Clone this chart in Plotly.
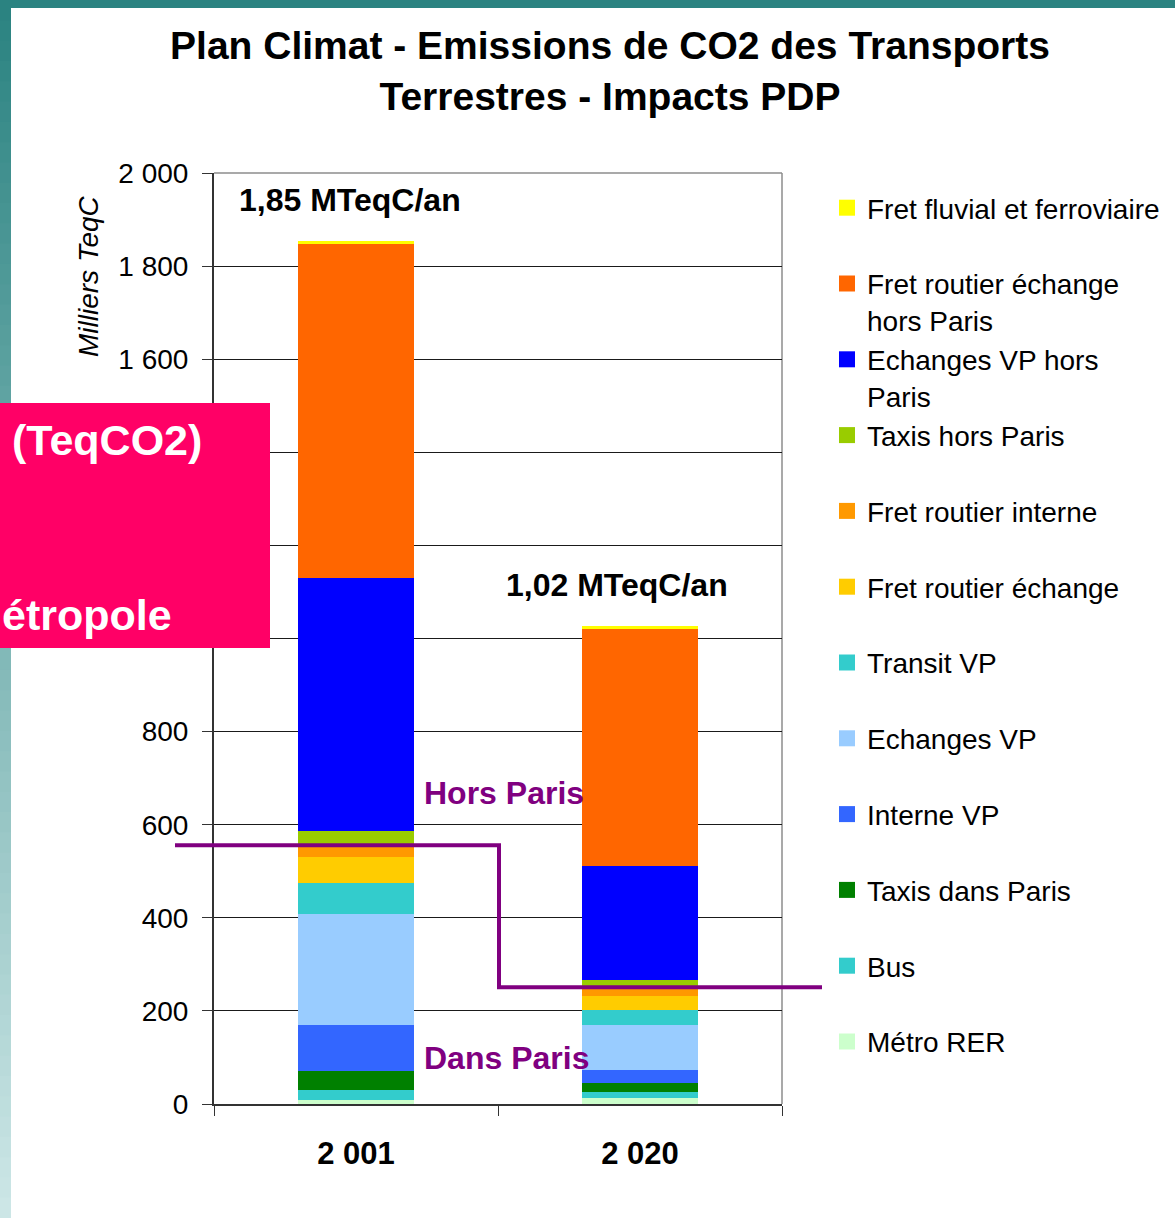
import plotly.graph_objects as go

# ---------------- data ----------------
categories = ["2 001", "2 020"]

# series listed bottom -> top of the stack
series_names = [
    "Métro RER",
    "Bus",
    "Taxis dans Paris",
    "Interne VP",
    "Echanges VP",
    "Transit VP",
    "Fret routier échange",
    "Fret routier interne",
    "Taxis hors Paris",
    "Echanges VP hors<br>Paris",
    "Fret routier échange<br>hors Paris",
    "Fret fluvial et ferroviaire",
]
metro_rer = [8, 12]
bus = [22, 13]
taxis_dans_paris = [40, 21]
interne_vp = [100, 26]
echanges_vp = [238, 97]
transit_vp = [67, 33]
fret_routier_echange = [56, 31]
fret_routier_interne = [24, 17]
taxis_hors_paris = [32, 17]
echanges_vp_hors_paris = [543, 245]
fret_routier_echange_hors_paris = [718, 508]
fret_fluvial_ferroviaire = [6, 6]

series_values = [
    metro_rer, bus, taxis_dans_paris, interne_vp, echanges_vp, transit_vp,
    fret_routier_echange, fret_routier_interne, taxis_hors_paris,
    echanges_vp_hors_paris, fret_routier_echange_hors_paris, fret_fluvial_ferroviaire,
]
series_colors = [
    "#CCFFCC", "#33CCCC", "#008000", "#3366FF", "#99CCFF", "#33CCCC",
    "#FFCC00", "#FF9900", "#99CC00", "#0000FF", "#FF6600", "#FFFF00",
]

y_tickvals = [0, 200, 400, 600, 800, 1000, 1200, 1400, 1600, 1800, 2000]
y_ticktext = ["0", "200", "400", "600", "800", "1 000", "1 200", "1 400", "1 600", "1 800", "2 000"]

total_labels = ["1,85 MTeqC/an", "1,02 MTeqC/an"]
total_label_levels = [1942, 1115]
limit_level = [556, 251]   # Paris / hors Paris separation level per bar

# ---------------- layout helpers ----------------
W, H = 1175, 1218
L, R, T, B = 214, 782, 173, 1104
FONT = "Liberation Sans, Arial, sans-serif"


def px(x):
    return (x - L) / (R - L)


def py(y):
    return (B - y) / (B - T)


fig = go.Figure()
for name, vals, col in zip(series_names, series_values, series_colors):
    label = name if "<br>" in name else name + "<br> "
    fig.add_trace(go.Bar(
        x=categories, y=vals, name=label, legendgroup=name, showlegend=False,
        marker=dict(color=col, line=dict(width=0)),
        hovertemplate=name.replace("<br>", " ") + ": %{y}<extra></extra>",
    ))
    # legend proxy (bigger square swatch)
    fig.add_trace(go.Scatter(
        x=[None], y=[None], mode="markers", name=label, legendgroup=name,
        marker=dict(symbol="square", size=20, color=col, line=dict(width=0)),
        hoverinfo="skip", showlegend=True,
    ))

shapes = []
# left gradient strip
n = 60
c0 = (0x2B, 0x83, 0x81)
c1 = (0xCC, 0xE6, 0xE6)
for i in range(n):
    t = i / (n - 1)
    col = "rgb(%d,%d,%d)" % tuple(round(a + (b - a) * t) for a, b in zip(c0, c1))
    y0 = i * H / n
    y1 = (i + 1) * H / n + 1
    shapes.append(dict(type="rect", xref="paper", yref="paper",
                       x0=px(0), x1=px(11), y0=py(y1), y1=py(y0),
                       fillcolor=col, line=dict(width=0), layer="below"))
# top strip
shapes.append(dict(type="rect", xref="paper", yref="paper",
                   x0=px(0), x1=px(W), y0=py(8), y1=py(0),
                   fillcolor="#2B8381", line=dict(width=0), layer="below"))
# plot frame top & right
shapes.append(dict(type="line", xref="paper", yref="paper", x0=0, x1=1, y0=1, y1=1,
                   line=dict(color="#8c8c8c", width=1.5), layer="below"))
shapes.append(dict(type="line", xref="paper", yref="paper", x0=1, x1=1, y0=0, y1=1,
                   line=dict(color="#8c8c8c", width=1.5), layer="below"))
# purple separation line
shapes.append(dict(
    type="path", xref="paper", yref="y",
    path="M %f,%f L %f,%f L %f,%f L %f,%f" % (
        px(175), limit_level[0], px(499), limit_level[0],
        px(499), limit_level[1], px(822), limit_level[1]),
    line=dict(color="#800080", width=4), layer="above"))
# pink overlay box
shapes.append(dict(type="rect", xref="paper", yref="paper",
                   x0=px(-2), x1=px(270), y0=py(648), y1=py(403),
                   fillcolor="#FF0066", line=dict(width=0), layer="above"))

annotations = [
    dict(text="Milliers TeqC", xref="paper", yref="paper", x=px(88), y=py(276),
         xanchor="center", yanchor="middle",
         textangle=-90, showarrow=False, font=dict(family=FONT, size=28, color="black", style="italic")),
    dict(text="<b>" + total_labels[0] + "</b>", xref="paper", yref="y", x=px(350), y=total_label_levels[0],
         xanchor="center", yanchor="middle",
         showarrow=False, font=dict(family=FONT, size=32, color="black")),
    dict(text="<b>" + total_labels[1] + "</b>", xref="paper", yref="y", x=px(617), y=total_label_levels[1],
         xanchor="center", yanchor="middle",
         showarrow=False, font=dict(family=FONT, size=32, color="black")),
    dict(text="<b>Hors Paris</b>", xref="paper", yref="y", x=px(422), y=668,
         xanchor="left", yanchor="middle",
         showarrow=False, font=dict(family=FONT, size=32, color="#800080")),
    dict(text="<b>Dans Paris</b>", xref="paper", yref="y", x=px(422), y=99,
         xanchor="left", yanchor="middle",
         showarrow=False, font=dict(family=FONT, size=32, color="#800080")),
    dict(text="<b>(TeqCO2)</b>", xref="paper", yref="paper", x=px(10), y=py(440),
         xanchor="left", yanchor="middle",
         showarrow=False, font=dict(family=FONT, size=43, color="white")),
    dict(text="<b>étropole</b>", xref="paper", yref="paper", x=px(0), y=py(615),
         xanchor="left", yanchor="middle",
         showarrow=False, font=dict(family=FONT, size=43, color="white")),
]

fig.update_layout(
    width=W, height=H,
    margin=dict(l=L, r=W - R, t=T, b=H - B, pad=0, autoexpand=False),
    paper_bgcolor="white", plot_bgcolor="white",
    barmode="stack", bargap=0.59,
    font=dict(family=FONT, color="black"),
    title=dict(text="<b>Plan Climat - Emissions de CO2 des Transports<br>Terrestres - Impacts PDP</b>",
               x=610 / W, xanchor="center", xref="container",
               y=1 - 59 / H, yanchor="top", yref="container",
               font=dict(family=FONT, size=39, color="black")),
    legend=dict(x=px(827), y=py(183), xanchor="left", yanchor="top",
                traceorder="reversed", valign="top", tracegroupgap=0,
                itemsizing="trace",
                font=dict(family=FONT, size=28, color="black"),
                bgcolor="rgba(0,0,0,0)"),
    xaxis=dict(type="category", showline=True, linecolor="#333333", linewidth=2,
               ticks="outside", tickson="boundaries", ticklen=10, tickcolor="#333333",
               showgrid=False, tickfont=dict(family=FONT, size=31, color="black"),
               ticklabelstandoff=21, range=[-0.5, 1.5],
               categoryorder="array", categoryarray=categories),
    yaxis=dict(range=[0, 2000], tickvals=y_tickvals, ticktext=y_ticktext,
               showline=True, linecolor="#333333", linewidth=2,
               ticks="outside", ticklen=10, tickcolor="#333333",
               showgrid=True, gridcolor="#1a1a1a", gridwidth=1, zeroline=False,
               tickfont=dict(family=FONT, size=28, color="black"), ticklabelstandoff=8),
    shapes=shapes,
    annotations=annotations,
    showlegend=True,
)
fig.update_xaxes(tickprefix="<b>", ticksuffix="</b>")

fig.write_html("out.html", config={"displayModeBar": False},
               post_script="document.body.style.margin='0';document.body.style.overflow='hidden';")
